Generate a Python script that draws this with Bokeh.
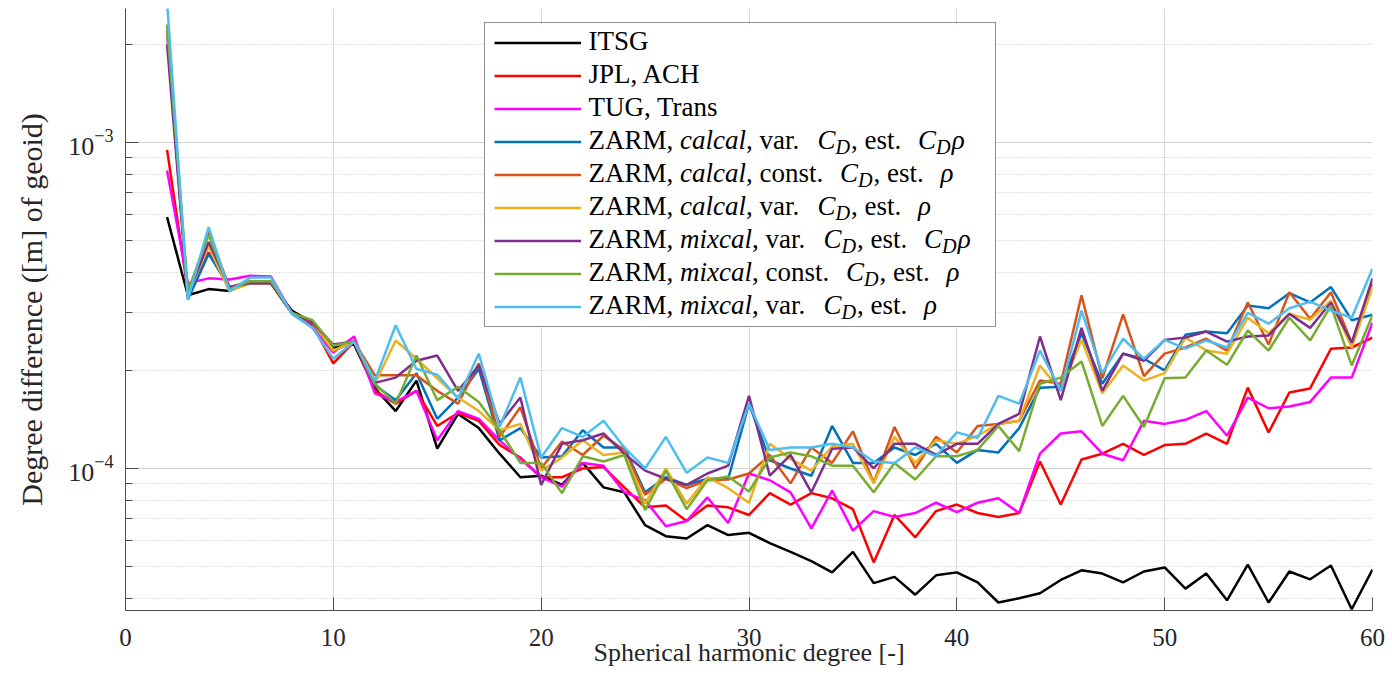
import math
from bokeh.plotting import figure
from bokeh.models import (Range1d, FixedTicker, LogTickFormatter, Legend, LegendItem,
                          BoxAnnotation, ColumnDataSource)
from bokeh.core.properties import value
from bokeh.embed import file_html
from bokeh.resources import INLINE

# ---------------- data ----------------
degrees = list(range(2, 61))

itsg = [5.9e-4, 3.4e-4, 3.55e-4, 3.5e-4, 3.75e-4, 3.7e-4, 3.05e-4, 2.8e-4, 2.35e-4, 2.4e-4,
        1.76e-4, 1.5e-4, 1.86e-4, 1.15e-4, 1.47e-4, 1.33e-4, 1.11e-4, 9.4e-5, 9.5e-5, 8.9e-5,
        1.04e-4, 8.75e-5, 8.45e-5, 6.7e-5, 6.2e-5, 6.1e-5, 6.7e-5, 6.25e-5, 6.35e-5, 5.9e-5,
        5.55e-5, 5.2e-5, 4.8e-5, 5.55e-5, 4.45e-5, 4.65e-5, 4.1e-5, 4.7e-5, 4.8e-5, 4.47e-5,
        3.88e-5, 4.0e-5, 4.14e-5, 4.55e-5, 4.87e-5, 4.76e-5, 4.47e-5, 4.83e-5, 4.97e-5, 4.28e-5,
        4.76e-5, 3.94e-5, 5.07e-5, 3.88e-5, 4.83e-5, 4.57e-5, 5.04e-5, 3.7e-5, 4.9e-5]

jpl_ach = [9.5e-4, 3.5e-4, 4.6e-4, 3.6e-4, 3.75e-4, 3.7e-4, 3.0e-4, 2.75e-4, 2.1e-4, 2.45e-4,
           1.73e-4, 1.58e-4, 1.73e-4, 1.35e-4, 1.48e-4, 1.4e-4, 1.18e-4, 1.08e-4, 9.4e-5, 9.4e-5,
           1.0e-4, 1.01e-4, 8.75e-5, 7.6e-5, 7.7e-5, 6.9e-5, 7.7e-5, 7.6e-5, 7.2e-5, 8.4e-5,
           7.75e-5, 8.4e-5, 8.1e-5, 7.5e-5, 5.15e-5, 7.2e-5, 6.15e-5, 7.4e-5, 7.75e-5, 7.3e-5,
           7.1e-5, 7.3e-5, 1.05e-4, 7.75e-5, 1.065e-4, 1.11e-4, 1.19e-4, 1.1e-4, 1.18e-4, 1.19e-4,
           1.28e-4, 1.19e-4, 1.77e-4, 1.29e-4, 1.71e-4, 1.76e-4, 2.33e-4, 2.35e-4, 2.52e-4]

tug_trans = [8.2e-4, 3.7e-4, 3.83e-4, 3.8e-4, 3.9e-4, 3.88e-4, 3.0e-4, 2.7e-4, 2.27e-4, 2.54e-4,
             1.7e-4, 1.6e-4, 1.73e-4, 1.22e-4, 1.5e-4, 1.42e-4, 1.22e-4, 1.07e-4, 9.4e-5, 8.8e-5,
             1.04e-4, 1.02e-4, 8.45e-5, 8.0e-5, 6.65e-5, 6.9e-5, 8.15e-5, 6.8e-5, 9.65e-5, 9.2e-5,
             8.45e-5, 6.55e-5, 8.55e-5, 6.45e-5, 7.4e-5, 7.1e-5, 7.3e-5, 7.85e-5, 7.35e-5, 7.85e-5,
             8.1e-5, 7.3e-5, 1.11e-4, 1.28e-4, 1.3e-4, 1.11e-4, 1.06e-4, 1.4e-4, 1.37e-4, 1.41e-4,
             1.5e-4, 1.26e-4, 1.65e-4, 1.53e-4, 1.55e-4, 1.6e-4, 1.9e-4, 1.9e-4, 2.8e-4]

zarm_cal_var_cdrho = [2.2e-3, 3.3e-4, 4.55e-4, 3.6e-4, 3.7e-4, 3.7e-4, 3.0e-4, 2.8e-4, 2.3e-4, 2.45e-4,
                      1.8e-4, 1.62e-4, 1.96e-4, 1.42e-4, 1.65e-4, 2.02e-4, 1.22e-4, 1.33e-4, 1.08e-4, 1.09e-4,
                      1.31e-4, 1.16e-4, 1.16e-4, 8.45e-5, 9.4e-5, 8.9e-5, 9.3e-5, 9.3e-5, 1.58e-4, 1.06e-4,
                      1.0e-4, 9.5e-5, 1.35e-4, 1.04e-4, 1.04e-4, 1.16e-4, 1.1e-4, 1.19e-4, 1.04e-4, 1.14e-4,
                      1.12e-4, 1.33e-4, 1.77e-4, 1.78e-4, 2.6e-4, 1.82e-4, 2.25e-4, 2.17e-4, 2.0e-4, 2.57e-4,
                      2.63e-4, 2.6e-4, 3.16e-4, 3.1e-4, 3.45e-4, 3.23e-4, 3.6e-4, 2.85e-4, 2.96e-4]

zarm_cal_const_rho = [2.2e-3, 3.4e-4, 5.3e-4, 3.6e-4, 3.7e-4, 3.7e-4, 3.0e-4, 2.8e-4, 2.3e-4, 2.45e-4,
                      1.93e-4, 1.93e-4, 1.93e-4, 1.73e-4, 1.58e-4, 2.1e-4, 1.25e-4, 1.54e-4, 1.0e-4, 1.21e-4,
                      1.1e-4, 1.26e-4, 1.14e-4, 8.3e-5, 9.3e-5, 8.7e-5, 9.2e-5, 9.25e-5, 9.65e-5, 1.1e-4,
                      9.0e-5, 1.16e-4, 1.04e-4, 1.3e-4, 9.05e-5, 1.34e-4, 1.0e-4, 1.25e-4, 1.12e-4, 1.35e-4,
                      1.37e-4, 1.4e-4, 1.86e-4, 1.82e-4, 3.4e-4, 1.89e-4, 2.97e-4, 1.92e-4, 2.25e-4, 2.35e-4,
                      2.5e-4, 2.3e-4, 3.23e-4, 2.4e-4, 3.47e-4, 2.88e-4, 3.47e-4, 2.43e-4, 3.7e-4]

zarm_cal_var_rho = [2.3e-3, 3.4e-4, 4.8e-4, 3.5e-4, 3.7e-4, 3.7e-4, 3.0e-4, 2.8e-4, 2.3e-4, 2.45e-4,
                    1.82e-4, 2.47e-4, 2.17e-4, 1.89e-4, 1.65e-4, 1.5e-4, 1.31e-4, 1.37e-4, 9.85e-5, 1.08e-4,
                    1.22e-4, 1.1e-4, 1.12e-4, 7.8e-5, 1.0e-4, 7.8e-5, 9.4e-5, 8.7e-5, 7.85e-5, 1.19e-4,
                    1.07e-4, 9.85e-5, 1.17e-4, 1.19e-4, 9.0e-5, 1.25e-4, 1.04e-4, 1.22e-4, 1.19e-4, 1.26e-4,
                    1.37e-4, 1.4e-4, 2.07e-4, 1.73e-4, 2.48e-4, 1.7e-4, 2.07e-4, 1.86e-4, 1.96e-4, 2.52e-4,
                    2.3e-4, 2.25e-4, 2.9e-4, 2.6e-4, 2.98e-4, 2.86e-4, 3.27e-4, 2.35e-4, 3.6e-4]

zarm_mix_var_cdrho = [2.0e-3, 3.4e-4, 4.95e-4, 3.6e-4, 3.7e-4, 3.7e-4, 3.0e-4, 2.8e-4, 2.4e-4, 2.45e-4,
                      1.83e-4, 1.9e-4, 2.14e-4, 2.22e-4, 1.73e-4, 2.07e-4, 1.37e-4, 1.65e-4, 8.9e-5, 1.19e-4,
                      1.22e-4, 1.28e-4, 1.11e-4, 9.85e-5, 9.3e-5, 8.9e-5, 9.65e-5, 1.02e-4, 1.67e-4, 9.5e-5,
                      1.1e-4, 8.45e-5, 1.15e-4, 1.16e-4, 1.0e-4, 1.19e-4, 1.19e-4, 1.1e-4, 1.19e-4, 1.19e-4,
                      1.37e-4, 1.47e-4, 2.54e-4, 1.62e-4, 2.7e-4, 1.73e-4, 2.25e-4, 2.14e-4, 2.48e-4, 2.52e-4,
                      2.63e-4, 2.45e-4, 2.54e-4, 2.56e-4, 2.98e-4, 2.7e-4, 3.23e-4, 2.43e-4, 3.83e-4]

zarm_mix_const_rho = [2.3e-3, 3.5e-4, 5.2e-4, 3.55e-4, 3.75e-4, 3.75e-4, 3.0e-4, 2.85e-4, 2.38e-4, 2.45e-4,
                      1.82e-4, 1.58e-4, 2.22e-4, 1.62e-4, 1.78e-4, 1.6e-4, 1.31e-4, 1.04e-4, 1.04e-4, 8.4e-5,
                      1.09e-4, 1.05e-4, 1.1e-4, 7.45e-5, 9.85e-5, 7.5e-5, 9.2e-5, 9.45e-5, 8.5e-5, 1.08e-4,
                      1.12e-4, 1.09e-4, 1.02e-4, 1.02e-4, 8.45e-5, 1.04e-4, 9.25e-5, 1.09e-4, 1.09e-4, 1.14e-4,
                      1.35e-4, 1.13e-4, 1.82e-4, 1.9e-4, 2.13e-4, 1.35e-4, 1.67e-4, 1.34e-4, 1.89e-4, 1.9e-4,
                      2.3e-4, 2.08e-4, 2.65e-4, 2.3e-4, 2.9e-4, 2.47e-4, 3.16e-4, 2.07e-4, 2.95e-4]

zarm_mix_var_rho = [2.7e-3, 3.3e-4, 5.5e-4, 3.5e-4, 3.85e-4, 3.85e-4, 2.98e-4, 2.7e-4, 2.17e-4, 2.45e-4,
                    1.86e-4, 2.75e-4, 2.02e-4, 1.94e-4, 1.64e-4, 2.25e-4, 1.34e-4, 1.9e-4, 1.08e-4, 1.33e-4,
                    1.25e-4, 1.4e-4, 1.16e-4, 1.0e-4, 1.25e-4, 9.7e-5, 1.08e-4, 1.04e-4, 1.58e-4, 1.14e-4,
                    1.16e-4, 1.16e-4, 1.19e-4, 1.16e-4, 1.05e-4, 1.04e-4, 1.16e-4, 1.09e-4, 1.29e-4, 1.24e-4,
                    1.67e-4, 1.58e-4, 2.3e-4, 1.73e-4, 3.05e-4, 1.96e-4, 2.5e-4, 2.17e-4, 2.48e-4, 2.33e-4,
                    2.47e-4, 2.35e-4, 3.0e-4, 2.78e-4, 3.1e-4, 3.25e-4, 3.05e-4, 2.9e-4, 4.1e-4]

series = [itsg, jpl_ach, tug_trans, zarm_cal_var_cdrho, zarm_cal_const_rho, zarm_cal_var_rho,
          zarm_mix_var_cdrho, zarm_mix_const_rho, zarm_mix_var_rho]
colors = ["#000000", "#FF0000", "#FF00FF", "#0072BD", "#D95319", "#EDB120", "#7E2F8E", "#77AC30", "#4DBEEE"]

# legend labels: (text, style) pieces; n = roman, i = italic, sub = italic subscript
legend_rows = [
    [("ITSG", "n")],
    [("JPL, ACH", "n")],
    [("TUG, Trans", "n")],
    [("ZARM, ", "n"), ("calcal", "i"), (", var. ", "n"), ("C", "i"), ("D", "sub"), (", est. ", "n"), ("C", "i"), ("D", "sub"), ("ρ", "i")],
    [("ZARM, ", "n"), ("calcal", "i"), (", const. ", "n"), ("C", "i"), ("D", "sub"), (", est. ", "n"), ("ρ", "i")],
    [("ZARM, ", "n"), ("calcal", "i"), (", var. ", "n"), ("C", "i"), ("D", "sub"), (", est. ", "n"), ("ρ", "i")],
    [("ZARM, ", "n"), ("mixcal", "i"), (", var. ", "n"), ("C", "i"), ("D", "sub"), (", est. ", "n"), ("C", "i"), ("D", "sub"), ("ρ", "i")],
    [("ZARM, ", "n"), ("mixcal", "i"), (", const. ", "n"), ("C", "i"), ("D", "sub"), (", est. ", "n"), ("ρ", "i")],
    [("ZARM, ", "n"), ("mixcal", "i"), (", var. ", "n"), ("C", "i"), ("D", "sub"), (", est. ", "n"), ("ρ", "i")],
]

x_ticks = [0, 10, 20, 30, 40, 50, 60]
y_major_ticks = [1e-5, 1e-4, 1e-3, 1e-2]
y_minor_ticks = [m * 10.0 ** e for e in (-5, -4, -3) for m in range(2, 10)]
X_START, X_END = 0, 60
Y_START, Y_END = 3.667e-5, 2.576e-3

FONT = "Liberation Serif"
AX = "#4d4d4d"
TXT = "#262626"

W, H = 1392, 692
BL, BR, BT, BB = 125, 20, 8, 82
FRAME_W = W - BL - BR
FRAME_H = H - BT - BB

# ---------------- figure ----------------
p = figure(width=W, height=H, x_range=Range1d(X_START, X_END), y_range=Range1d(Y_START, Y_END),
           y_axis_type="log", output_backend="svg", toolbar_location=None,
           min_border_left=BL, min_border_right=BR, min_border_top=BT, min_border_bottom=BB)
p.outline_line_color = None
p.border_fill_color = "white"
p.background_fill_color = "white"

p.xaxis.ticker = FixedTicker(ticks=x_ticks)
p.yaxis.ticker = FixedTicker(ticks=y_major_ticks, minor_ticks=y_minor_ticks)
p.yaxis.formatter = LogTickFormatter()

for ax in (p.xaxis[0], p.yaxis[0]):
    ax.axis_line_color = AX
    ax.axis_line_width = 1
    ax.major_tick_line_color = AX
    ax.minor_tick_line_color = AX
    ax.major_tick_in = 13
    ax.major_tick_out = 0
    ax.minor_tick_in = 7
    ax.minor_tick_out = 0
    ax.major_label_text_font = FONT
    ax.major_label_text_font_size = "25px"
    ax.major_label_text_color = TXT
    ax.axis_label_text_font = FONT
    ax.axis_label_text_font_style = "normal"
    ax.axis_label_text_color = TXT

p.yaxis.major_label_text_font_size = "26px"
p.xaxis.axis_label = "Spherical harmonic degree [-]"
p.yaxis.axis_label = "Degree difference ([m] of geoid)"
p.xaxis.axis_label_text_font_size = "26px"
p.yaxis.axis_label_text_font_size = "30px"
p.xaxis.major_label_standoff = 18
p.xaxis.axis_label_standoff = -11
p.yaxis.major_label_standoff = 12
p.yaxis.axis_label_standoff = 17

p.xgrid.grid_line_color = "#dadada"
p.xgrid.grid_line_width = 1
p.ygrid.grid_line_color = "#d2d2d2"
p.ygrid.grid_line_width = 1
p.ygrid.minor_grid_line_color = "#c4c4c4"
p.ygrid.minor_grid_line_dash = "1 2"
p.ygrid.minor_grid_line_width = 1

LY0, LY1 = math.log10(Y_START), math.log10(Y_END)


def frame_to_data(dx, dy):
    """dx from frame left, dy from frame top (pixels) -> data coordinates."""
    xd = X_START + dx / FRAME_W * (X_END - X_START)
    yd = 10 ** (LY1 - dy / FRAME_H * (LY1 - LY0))
    return xd, yd


# legend geometry (pixels, relative to frame)
LEG_L, LEG_T, LEG_W, LEG_H = 359, 16, 510, 303
PAD, ITEM_H, GAP = 9, 21, 12

# white backing for the legend so grid lines do not show through it
bl_x, bt_y = frame_to_data(LEG_L, LEG_T)
br_x, bb_y = frame_to_data(LEG_L + LEG_W, LEG_T + LEG_H)
p.add_layout(BoxAnnotation(left=bl_x, right=br_x, top=bt_y, bottom=bb_y, fill_color="white",
                           fill_alpha=1.0, line_color=None, level="underlay"))

renderers = []
for vals, col in zip(series, colors):
    r = p.line(degrees, vals, line_color=col, line_width=2.5)
    renderers.append(r)

# legend: box and line samples (label texts drawn separately for italics / subscripts)
items = [LegendItem(label=" " * (i + 1), renderers=[r]) for i, r in enumerate(renderers)]
legend = Legend(items=items, location=(LEG_L, FRAME_H - LEG_T - LEG_H), glyph_width=87,
                glyph_height=ITEM_H, label_height=ITEM_H, label_width=LEG_W - 2 * PAD - 87 - 7,
                label_standoff=7, spacing=GAP, padding=PAD, margin=0,
                border_line_color=TXT, border_line_width=1, background_fill_alpha=0.0,
                label_text_font_size="8px")
p.add_layout(legend)

# approximate advance widths (per 1000 em) for the serif font
ROMAN = {' ': 250, ',': 250, '.': 250, '-': 333, 'A': 722, 'C': 667, 'D': 722, 'G': 722, 'H': 722,
         'I': 333, 'J': 389, 'L': 611, 'M': 889, 'R': 667, 'S': 556, 'T': 611, 'U': 722, 'Z': 611,
         'a': 444, 'c': 444, 'e': 444, 'n': 500, 'o': 500, 'r': 333, 's': 389, 't': 278, 'v': 500}
ITAL = {'a': 500, 'c': 444, 'l': 278, 'm': 722, 'i': 278, 'x': 444, 'C': 667, 'D': 722, 'ρ': 520}

LFS = 27.0
SUB = 0.75
SENTENCE_EXTRA = 10.0   # wider space after a full stop


def width(text, style):
    table = ROMAN if style == "n" else ITAL
    size = LFS * (SUB if style == "sub" else 1.0)
    w = sum(table.get(ch, 500) for ch in text) * size / 1000.0
    if text.endswith(". "):
        w += SENTENCE_EXTRA
    return w


TEXT_X0 = LEG_L + PAD + 87 + 7 + 1               # text start, from frame left
ROW0 = LEG_T + PAD + ITEM_H / 2.0 - 3.0          # first row text centre, from frame top
PITCH = ITEM_H + GAP
lt = dict(x=[], y=[], text=[], style=[], size=[])
for k, row in enumerate(legend_rows):
    cx = TEXT_X0
    for text, style in row:
        stripped = text.lstrip(" ")
        lead = width(text[:len(text) - len(stripped)], style)
        shown = stripped.rstrip(" ")
        if shown:
            fs = LFS * (SUB if style == "sub" else 1.0)
            dy = ROW0 + PITCH * k + (7 if style == "sub" else 0)
            xd, yd = frame_to_data(cx + lead, dy)
            lt["x"].append(xd)
            lt["y"].append(yd)
            lt["text"].append(shown)
            lt["style"].append("normal" if style == "n" else "italic")
            lt["size"].append(f"{fs:.1f}px")
        cx += width(text, style)
        if style == "sub":
            cx += 1

p.text(x="x", y="y", text="text", source=ColumnDataSource(lt), text_font=value(FONT),
       text_font_size="size", text_font_style="style", text_color="black",
       text_baseline="middle", text_align="left")

open("out.html", "w").write(file_html(p, INLINE))
